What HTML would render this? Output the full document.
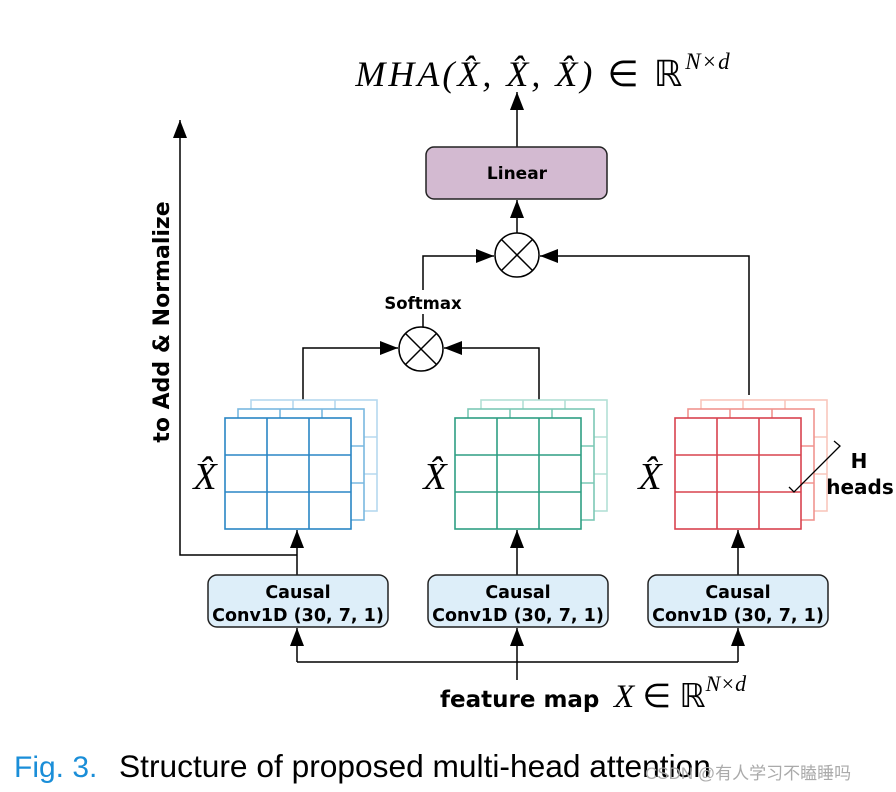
<!DOCTYPE html>
<html><head><meta charset="utf-8"><style>
body{margin:0;background:#fff;}
svg{display:block}
.b{font-family:"DejaVu Sans","Liberation Sans",sans-serif;font-weight:bold;}
.m{font-family:"Liberation Serif",serif;font-style:italic;}
</style></head><body>
<svg width="896" height="792" viewBox="0 0 896 792" xmlns="http://www.w3.org/2000/svg">
<defs>
<g id="grid" fill="#fff" stroke="currentColor" stroke-width="1.6">
<rect x="0" y="0" width="126" height="111"/>
<line x1="42" y1="0" x2="42" y2="111"/><line x1="84" y1="0" x2="84" y2="111"/>
<line x1="0" y1="37" x2="126" y2="37"/><line x1="0" y1="74" x2="126" y2="74"/>
</g>
<marker id="al" markerWidth="20" markerHeight="16" refX="18" refY="8" orient="auto" markerUnits="userSpaceOnUse"><path d="M0,1 L18,8 L0,15Z" fill="#000"/></marker>
</defs>

<text x="543" y="86" text-anchor="middle" class="m" font-size="36" letter-spacing="3">MHA(X̂, X̂, X̂) <tspan font-style="normal">∈ ℝ</tspan><tspan dy="-17" font-size="23" letter-spacing="1">N×d</tspan></text>

<g stroke="#000" stroke-width="1.5" fill="none">
<line x1="517" y1="147" x2="517" y2="92" marker-end="url(#al)"/>
<line x1="517" y1="233" x2="517" y2="200" marker-end="url(#al)"/>
<polyline points="423,290 423,256 494,256" marker-end="url(#al)"/>
<polyline points="749,395 749,256 540,256" marker-end="url(#al)"/>
<line x1="423" y1="314" x2="423" y2="327"/>
<polyline points="303,400 303,348 398,348" marker-end="url(#al)"/>
<polyline points="539,400 539,348 444,348" marker-end="url(#al)"/>
<line x1="297" y1="575" x2="297" y2="530" marker-end="url(#al)"/>
<line x1="517" y1="575" x2="517" y2="530" marker-end="url(#al)"/>
<line x1="738" y1="575" x2="738" y2="530" marker-end="url(#al)"/>
<polyline points="297,555 180,555 180,120" marker-end="url(#al)"/>
<polyline points="297,662 738,662"/>
<line x1="297" y1="662" x2="297" y2="628" marker-end="url(#al)"/>
<line x1="738" y1="662" x2="738" y2="628" marker-end="url(#al)"/>
<line x1="517" y1="680" x2="517" y2="628" marker-end="url(#al)"/>
</g>

<rect x="426" y="147" width="181" height="52" rx="8" fill="#d3bad1" stroke="#222" stroke-width="1.5"/>
<text x="517" y="179" text-anchor="middle" class="b" font-size="17">Linear</text>

<g fill="#fff" stroke="#000" stroke-width="1.5">
<circle cx="517" cy="255" r="22"/>
<line x1="501.5" y1="239.5" x2="532.5" y2="270.5"/><line x1="532.5" y1="239.5" x2="501.5" y2="270.5"/>
<circle cx="421" cy="349" r="22"/>
<line x1="405.5" y1="333.5" x2="436.5" y2="364.5"/><line x1="436.5" y1="333.5" x2="405.5" y2="364.5"/>
</g>
<text x="423" y="309" text-anchor="middle" class="b" font-size="16.5">Softmax</text>

<use href="#grid" x="251" y="400" color="#b5d8ef"/>
<use href="#grid" x="238" y="409" color="#7ab8e0"/>
<use href="#grid" x="225" y="418" color="#2a86c5"/>
<use href="#grid" x="481" y="400" color="#b3e0d5"/>
<use href="#grid" x="468" y="409" color="#7cc8b5"/>
<use href="#grid" x="455" y="418" color="#2e9e83"/>
<use href="#grid" x="701" y="400" color="#f8c6bc"/>
<use href="#grid" x="688" y="409" color="#f0948f"/>
<use href="#grid" x="675" y="418" color="#d9434f"/>

<text x="205" y="489" text-anchor="middle" class="m" font-size="38">X̂</text>
<text x="435" y="489" text-anchor="middle" class="m" font-size="38">X̂</text>
<text x="650" y="489" text-anchor="middle" class="m" font-size="38">X̂</text>

<polyline points="834,441 840,446 794,492 789,487" fill="none" stroke="#000" stroke-width="1.3"/>
<text x="859" y="468" text-anchor="middle" class="b" font-size="20">H</text>
<text x="860" y="494" text-anchor="middle" class="b" font-size="20">heads</text>

<text transform="translate(169,322) rotate(-90)" text-anchor="middle" class="b" font-size="22">to Add &amp; Normalize</text>

<g fill="#ddeef9" stroke="#222" stroke-width="1.5">
<rect x="208" y="575" width="180" height="52" rx="9"/>
<rect x="428" y="575" width="180" height="52" rx="9"/>
<rect x="648" y="575" width="180" height="52" rx="9"/>
</g>
<g class="b" font-size="17.5" text-anchor="middle">
<text x="298" y="598">Causal</text><text x="298" y="621">Conv1D (30, 7, 1)</text>
<text x="518" y="598">Causal</text><text x="518" y="621">Conv1D (30, 7, 1)</text>
<text x="738" y="598">Causal</text><text x="738" y="621">Conv1D (30, 7, 1)</text>
</g>

<text x="440" y="707" class="b" font-size="23">feature map</text>
<text x="614" y="707" class="m" font-size="33">X <tspan font-style="normal">∈ ℝ</tspan><tspan dy="-16" font-size="22">N×d</tspan></text>

<text x="14" y="777" font-family="Liberation Sans, sans-serif" font-size="30" fill="#1a8ed8">Fig. 3.</text>
<text x="119" y="777" font-family="Liberation Sans, sans-serif" font-size="31.7" fill="#000">Structure of proposed multi-head attention</text>
<text x="645" y="779" font-family="Liberation Sans,'Noto Sans CJK SC',sans-serif" font-size="17" fill="#aaa">CSDN @有人学习不瞌睡吗</text>
</svg>
</body></html>
